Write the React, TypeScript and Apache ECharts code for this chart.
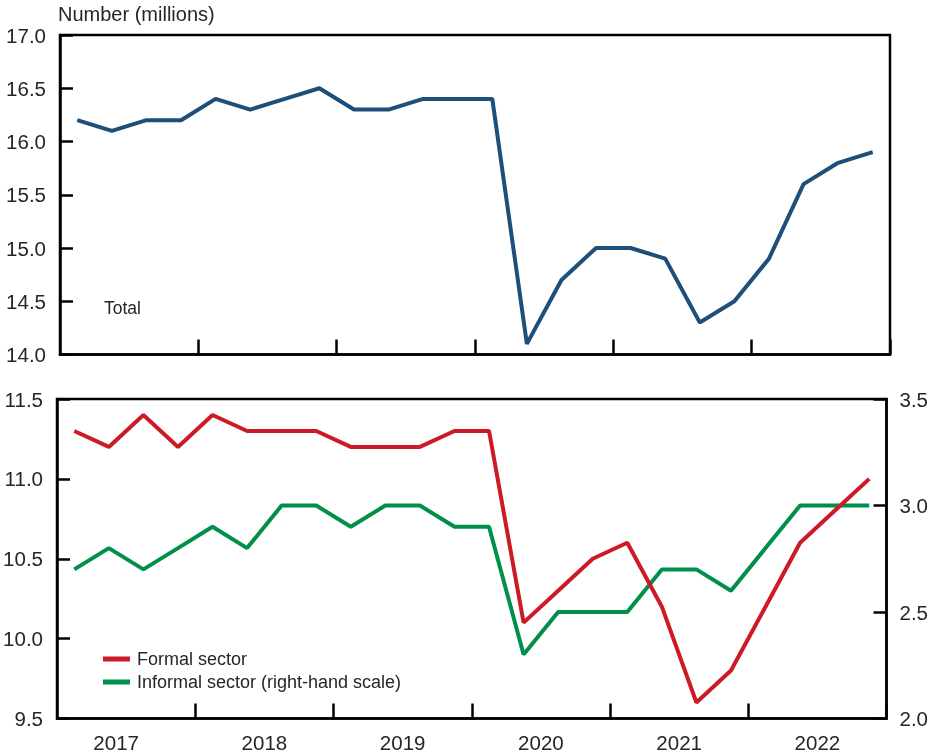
import React, { useEffect, useRef } from "react";
import * as echarts from "echarts";

const quarters = [
  "2017Q1", "2017Q2", "2017Q3", "2017Q4",
  "2018Q1", "2018Q2", "2018Q3", "2018Q4",
  "2019Q1", "2019Q2", "2019Q3", "2019Q4",
  "2020Q1", "2020Q2", "2020Q3", "2020Q4",
  "2021Q1", "2021Q2", "2021Q3", "2021Q4",
  "2022Q1", "2022Q2", "2022Q3", "2022Q4",
];
const years = ["2017", "2018", "2019", "2020", "2021", "2022"];
const total = [16.2, 16.1, 16.2, 16.2, 16.4, 16.3, 16.4, 16.5, 16.3, 16.3, 16.4, 16.4, 16.4, 14.1, 14.7, 15.0, 15.0, 14.9, 14.3, 14.5, 14.9, 15.6, 15.8, 15.9];
const formal = [11.3, 11.2, 11.4, 11.2, 11.4, 11.3, 11.3, 11.3, 11.2, 11.2, 11.2, 11.3, 11.3, 10.1, 10.3, 10.5, 10.6, 10.2, 9.6, 9.8, 10.2, 10.6, 10.8, 11.0];
const informal = [2.7, 2.8, 2.7, 2.8, 2.9, 2.8, 3.0, 3.0, 2.9, 3.0, 3.0, 2.9, 2.9, 2.3, 2.5, 2.5, 2.5, 2.7, 2.7, 2.6, 2.8, 3.0, 3.0, 3.0];

const FONT = "'Liberation Sans', Arial, Helvetica, sans-serif";
const TXT = "#262626";
const BLUE = "#1d4f7a";
const RED = "#cc1a26";
const GREEN = "#00904a";

export default function App() {
  const ref = useRef<HTMLDivElement>(null);
  useEffect(() => {
    if (!ref.current) return;
    const chart = echarts.init(ref.current, null, { renderer: "svg" });
    const yLabel = { fontSize: 20.5, color: TXT, fontFamily: FONT, margin: 14, formatter: (v: number) => v.toFixed(1) };
    const axisLine = { show: true, lineStyle: { color: "#000", width: 2.5 } };
    const yTick = { show: true, inside: true, length: 13, lineStyle: { color: "#000", width: 2.5 } };
    const xTick = {
      show: true, inside: true, length: 15,
      interval: (i: number) => i % 4 === 0 && i > 0,
      lineStyle: { color: "#000", width: 2.5 },
    };
    const yearData = years.map((y, i) =>
      i === 0 ? { value: y, textStyle: { padding: [0, 20, 0, 0] } } : { value: y }
    );
    chart.setOption({
      animation: false,
      textStyle: { fontFamily: FONT },
      grid: [
        { left: 60, width: 830, top: 35, height: 319.5, show: true, borderColor: "#000", borderWidth: 2.5, containLabel: false },
        { left: 57, width: 830, top: 399, height: 319.5, show: true, borderColor: "#000", borderWidth: 2.5, containLabel: false },
      ],
      xAxis: [
        { type: "category", gridIndex: 0, data: quarters, boundaryGap: true, axisLine, axisTick: xTick, axisLabel: { show: false }, splitLine: { show: false } },
        { type: "category", gridIndex: 1, data: quarters, boundaryGap: true, axisLine, axisTick: xTick, axisLabel: { show: false }, splitLine: { show: false } },
        { type: "category", gridIndex: 1, data: yearData, boundaryGap: true, position: "bottom", axisLine: { show: false }, axisTick: { show: false }, axisLabel: { fontSize: 20.5, color: TXT, fontFamily: FONT, margin: 13 }, splitLine: { show: false } },
      ],
      yAxis: [
        { type: "value", gridIndex: 0, min: 14, max: 17, interval: 0.5, axisLine, axisTick: yTick, axisLabel: yLabel, splitLine: { show: false } },
        { type: "value", gridIndex: 1, min: 9.5, max: 11.5, interval: 0.5, axisLine, axisTick: yTick, axisLabel: yLabel, splitLine: { show: false } },
        { type: "value", gridIndex: 1, position: "right", min: 2.0, max: 3.5, interval: 0.5, axisLine, axisTick: yTick, axisLabel: { ...yLabel, margin: 13 }, splitLine: { show: false } },
      ],
      legend: {
        orient: "vertical",
        left: 103,
        top: 650,
        padding: 0,
        itemWidth: 27,
        itemHeight: 5,
        itemGap: 5,
        icon: "rect",
        textStyle: { fontSize: 18, color: TXT, fontFamily: FONT, padding: [0, 0, 0, 2] },
        data: ["Formal sector", "Informal sector (right-hand scale)"],
      },
      graphic: [
        { type: "text", left: 58, top: 4, style: { text: "Number (millions)", fontSize: 20, fill: TXT, fontFamily: FONT } },
        { type: "text", left: 104, top: 299, style: { text: "Total", fontSize: 17.5, fill: TXT, fontFamily: FONT } },
      ],
      series: [
        { name: "Total", type: "line", xAxisIndex: 0, yAxisIndex: 0, data: total, showSymbol: false, symbol: "none", lineStyle: { color: BLUE, width: 4 }, itemStyle: { color: BLUE } },
        { name: "Informal sector (right-hand scale)", type: "line", xAxisIndex: 1, yAxisIndex: 2, data: informal, showSymbol: false, symbol: "none", lineStyle: { color: GREEN, width: 4 }, itemStyle: { color: GREEN } },
        { name: "Formal sector", type: "line", xAxisIndex: 1, yAxisIndex: 1, data: formal, showSymbol: false, symbol: "none", lineStyle: { color: RED, width: 4 }, itemStyle: { color: RED } },
      ],
    });
    return () => chart.dispose();
  }, []);
  return <div ref={ref} style={{ position: "fixed", left: 0, top: 0, width: 931, height: 754 }} />;
}
